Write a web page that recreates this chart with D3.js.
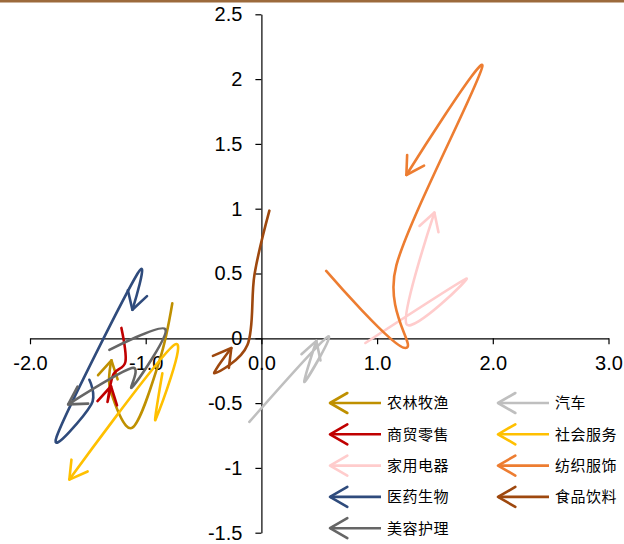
<!DOCTYPE html>
<html><head><meta charset="utf-8">
<script src="https://cdn.jsdelivr.net/npm/d3@7"></script>
<style>html,body{margin:0;padding:0;background:#fff;}svg{display:block;}</style>
</head><body>
<svg id="c" width="624" height="544"></svg>
<script>
// ---- data ----
const seriesNames = ["农林牧渔","汽车","商贸零售","社会服务","家用电器","纺织服饰","医药生物","食品饮料","美容护理"];
const seriesColors = ["#BF9000","#BFBFBF","#C00000","#FFC000","#FFCCCC","#ED7D31","#2F4B7C","#9E480E","#666666"];
const nonglinX = [-0.77,-0.88,-1.115,-1.305,-1.296];
const nonglinY = [0.27,-0.17,-0.69,-0.40,-0.17];
const qicheX = [-0.104,0.57,0.372,0.475];
const qicheY = [-0.645,0.01,-0.337,-0.02];
const shangmaoX = [-1.21,-1.175,-1.28,-1.33,-1.30];
const shangmaoY = [0.08,-0.18,-0.28,-0.49,-0.37];
const shehuiX = [-0.856,-0.916,-0.752,-1.66];
const shehuiY = [-0.27,-0.63,-0.05,-1.09];
const jiadianX = [0.899,1.77,1.253,1.495];
const jiadianY = [-0.036,0.46,0.11,0.97];
const fangzhiX = [0.56,1.245,1.167,1.91,1.253];
const fangzhiY = [0.52,-0.075,0.565,2.10,1.26];
const yiyaoX = [-1.487,-1.47,-1.77,-1.07,-1.115];
const yiyaoY = [-0.32,-0.51,-0.76,0.50,0.22];
const shipinX = [0.069,-0.06,-0.12,-0.406,-0.26];
const shipinY = [0.985,0.49,-0.05,-0.27,-0.075];
const meirongX = [-1.314,-0.83,-1.115,-1.12,-1.67];
const meirongY = [-0.09,0.07,-0.375,-0.23,-0.51];
const xTicks = [-2,-1,0,1,2,3];
const xTickLabels = ["-2.0","-1.0","0.0","1.0","2.0","3.0"];
const yTicks = [-1.5,-1,-0.5,0,0.5,1,1.5,2,2.5];
const yTickLabels = ["-1.5","-1","-0.5","0","0.5","1","1.5","2","2.5"];

const seriesX = [nonglinX,qicheX,shangmaoX,shehuiX,jiadianX,fangzhiX,yiyaoX,shipinX,meirongX];
const seriesY = [nonglinY,qicheY,shangmaoY,shehuiY,jiadianY,fangzhiY,yiyaoY,shipinY,meirongY];

// ---- chart ----
const svg = d3.select("#c");
svg.append("rect").attr("x",0).attr("y",0).attr("width",624).attr("height",2.5).attr("fill","#9C6A3C");

const x = d3.scaleLinear().domain([-2,3]).range([30,608.5]);
const y = d3.scaleLinear().domain([-1.5,2.5]).range([532.7,14.3]);

const font = "'Liberation Sans', Arial, sans-serif";

const xAxis = d3.axisBottom(x).tickValues(xTicks).tickFormat((d,i)=>xTickLabels[i]).tickSize(6).tickPadding(12).tickSizeOuter(0);
const gx = svg.append("g").attr("transform",`translate(0,${y(0)})`).call(xAxis);
const yAxis = d3.axisLeft(y).tickValues(yTicks).tickFormat((d,i)=>yTickLabels[i]).tickSize(6).tickPadding(13).tickSizeOuter(0);
const gy = svg.append("g").attr("transform",`translate(${x(0)},0)`).call(yAxis);
[gx,gy].forEach(g=>{
  g.selectAll("path.domain").attr("stroke","#000").attr("stroke-width",1.2);
  g.selectAll(".tick line").attr("stroke","#000").attr("stroke-width",1.2);
  g.selectAll("text").attr("font-family",font).attr("font-size",20).attr("fill","#000");
});

const line = d3.line().x(d=>x(d[0])).y(d=>y(d[1])).curve(d3.curveCatmullRom.alpha(0));

function arrowHead(g, tip, from, color, len){
  const dx = from[0]-tip[0], dy = from[1]-tip[1];
  const a = Math.atan2(dy,dx);
  const h = Math.PI/6;
  const p1 = [tip[0]+len*Math.cos(a+h), tip[1]+len*Math.sin(a+h)];
  const p2 = [tip[0]+len*Math.cos(a-h), tip[1]+len*Math.sin(a-h)];
  g.append("path").attr("d",`M${p1[0]},${p1[1]}L${tip[0]},${tip[1]}L${p2[0]},${p2[1]}`)
    .attr("fill","none").attr("stroke",color).attr("stroke-width",2.6)
    .attr("stroke-linejoin","round").attr("stroke-linecap","round");
}

const plot = svg.append("g");
seriesNames.forEach((name,i)=>{
  const pts = seriesX[i].map((v,j)=>[v,seriesY[i][j]]);
  const g = plot.append("g");
  const p = g.append("path").attr("d",line(pts)).attr("fill","none")
    .attr("stroke",seriesColors[i]).attr("stroke-width",2.6)
    .attr("stroke-linejoin","round").attr("stroke-linecap","round");
  const node = p.node();
  const L = node.getTotalLength();
  const e = node.getPointAtLength(L), b = node.getPointAtLength(Math.max(0,L-3));
  arrowHead(g,[e.x,e.y],[b.x,b.y],seriesColors[i],20);
});

// legend
const legCols = [330,498];
const legRows = [403,434.3,465.6,496.9,528.2];
const leg = svg.append("g");
seriesNames.forEach((name,i)=>{
  const col = i%2, row = Math.floor(i/2);
  const lx = legCols[col], ly = legRows[row];
  const g = leg.append("g");
  g.append("line").attr("x1",lx).attr("y1",ly).attr("x2",lx+51).attr("y2",ly)
    .attr("stroke",seriesColors[i]).attr("stroke-width",2.6);
  arrowHead(g,[lx,ly],[lx+10,ly],seriesColors[i],20);
  g.append("text").attr("x",lx+57).attr("y",ly).attr("dy","0.36em")
    .attr("font-family","'Noto Sans CJK SC', sans-serif").attr("font-size",15)
    .attr("letter-spacing",0.5).attr("fill","#000").text(name);
});
</script>
</body></html>
